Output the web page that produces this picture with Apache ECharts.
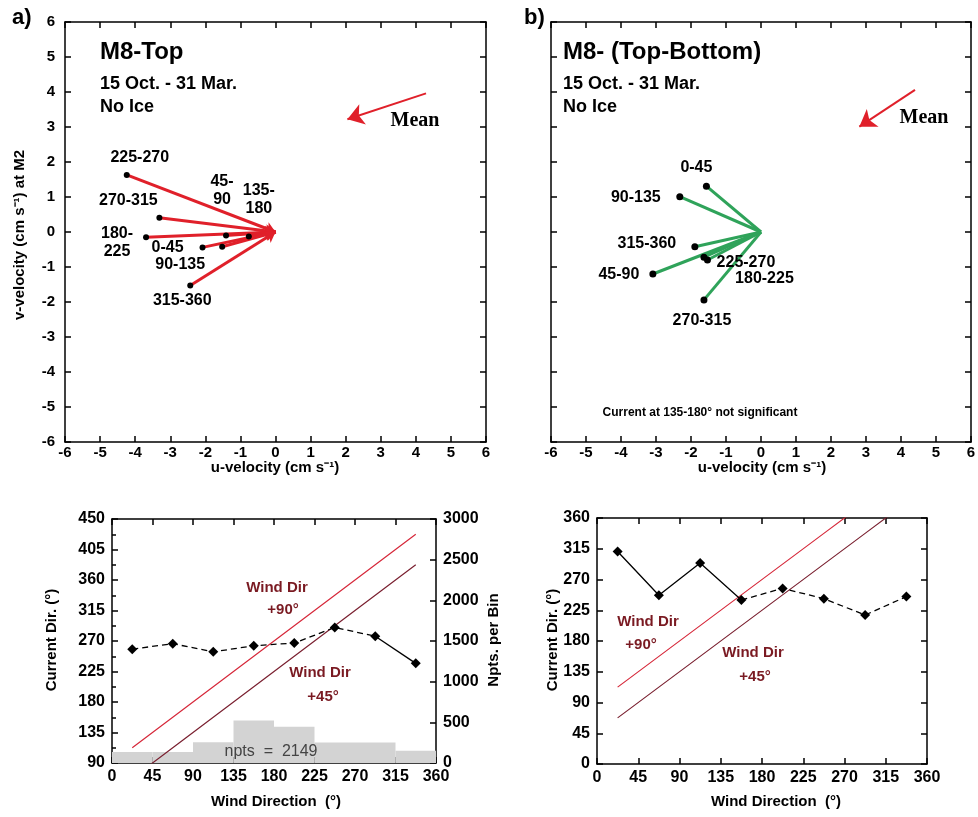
<!DOCTYPE html>
<html>
<head>
<meta charset="utf-8">
<script src="https://cdn.jsdelivr.net/npm/echarts@6.0.0/dist/echarts.min.js"></script>
<style>
html,body{margin:0;padding:0;background:#fff}
#chart{width:978px;height:817px}
</style>
</head>
<body>
<div id="chart"></div>
<script>
// ---- Mean current vectors per wind-direction bin (cm s-1) ----
const topBins   = ['225-270','270-315','180-225','45-90','135-180','0-45','90-135','315-360'];
const topU      = [-4.24, -3.31, -3.69, -1.41, -0.76, -2.08, -1.52, -2.43];
const topV      = [ 1.63,  0.41, -0.15, -0.10, -0.13, -0.44, -0.42, -1.53];

const shearBins = ['0-45','90-135','315-360','225-270','180-225','45-90','270-315'];
const shearU    = [-1.56, -2.32, -1.89, -1.63, -1.53, -3.09, -1.63];
const shearV    = [ 1.31,  1.01, -0.42, -0.72, -0.80, -1.20, -1.94];

// overall mean arrows: [tail, head]
const meanTop   = [[4.29, 3.96], [2.05, 3.22]];
const meanShear = [[4.40, 4.06], [2.81, 3.01]];

// ---- Current direction vs. wind direction ----
const windBins     = [22.5, 67.5, 112.5, 157.5, 202.5, 247.5, 292.5, 337.5];
const topCurDir    = [258, 266, 254, 263, 267, 290, 277, 237];
const shearCurDir  = [311, 247, 294, 240, 257, 242, 218, 245];
const binEdges     = [0, 45, 90, 135, 180, 225, 270, 315, 360];
const binCounts    = [134, 134, 256, 524, 446, 252, 252, 151];
const totalPts     = 2149;

// label placement around each vector tip (px); some top labels wrap onto two lines
const topLabelShift = {
  '225-270':[13,-17], '270-315':[-31,-17], '180-225':[-29,5], '45-90':[-4,-45],
  '135-180':[10,-37], '0-45':[-35,0], '90-135':[-42,18], '315-360':[-8,15]
};
const topLabelWrap = ['180-225', '45-90', '135-180'];
const shearLabelShift = {
  '0-45':[-10,-19], '90-135':[-44,1], '315-360':[-48,-3], '225-270':[42,5],
  '180-225':[57,19], '45-90':[-34,1], '270-315':[-2,21]
};

const FONT = '"Liberation Sans", Arial, sans-serif';
const RED = '#e0202a', GREEN = '#2fa35a', WIND90 = '#d6283a', WIND45 = '#7a2030', ANNOT = '#7a1a22';

const axLine = {show:true, onZero:false, lineStyle:{color:'#000', width:1.5}};
const axTick = {show:true, inside:true, length:6, lineStyle:{color:'#000', width:1.5}};
const axLbl  = (size, margin) => ({show:true, color:'#000', fontFamily:FONT, fontWeight:'bold',
                                   fontSize:size, margin:margin, formatter:v => String(v)});
const noLbl  = {show:false};

function valAxis(grid, pos, min, max, interval, label, extra) {
  return Object.assign({
    type:'value', gridIndex:grid, position:pos, min:min, max:max, interval:interval,
    axisLine:axLine, axisTick:axTick, axisLabel:label || noLbl, splitLine:{show:false}
  }, extra || {});
}

const xAxes = [
  valAxis(0,'bottom',-6,6,1,axLbl(15,3)),
  valAxis(0,'top',-6,6,1,null),
  valAxis(1,'bottom',-6,6,1,axLbl(15,3)),
  valAxis(1,'top',-6,6,1,null),
  valAxis(2,'bottom',0,360,45,axLbl(16,6)),
  valAxis(2,'top',0,360,45,null),
  valAxis(3,'bottom',0,360,45,axLbl(16,6)),
  valAxis(3,'top',0,360,45,null)
];
const yAxes = [
  valAxis(0,'left',-6,6,1,axLbl(15,10)),
  valAxis(0,'right',-6,6,1,null),
  valAxis(1,'left',-6,6,1,null),
  valAxis(1,'right',-6,6,1,null),
  valAxis(2,'left',90,450,45,axLbl(16,7),{minorTick:{show:true,splitNumber:2,length:4,lineStyle:{color:'#000',width:1.5}}}),
  valAxis(2,'right',0,3000,500,axLbl(16,7)),
  valAxis(3,'left',0,360,45,axLbl(16,7)),
  valAxis(3,'right',0,360,45,null)
];

function tipScatter(xi, bins, us, vs, shifts, wrap, size) {
  return {
    type:'scatter', xAxisIndex:xi, yAxisIndex:xi, z:5,
    symbol:'circle', symbolSize:size, itemStyle:{color:'#000', opacity:1},
    label:{show:true, position:'inside',
           formatter:p => wrap.indexOf(p.name) >= 0 ? p.name.replace('-', '-\n') : p.name,
           color:'#000', fontFamily:FONT, fontWeight:'bold', fontSize:16, lineHeight:18},
    data: bins.map((b,i) => ({name:b, value:[us[i], vs[i]], label:{offset:shifts[b]}}))
  };
}

function vectorLines(xi, us, vs, color, arrow) {
  return {
    type:'lines', coordinateSystem:'cartesian2d', xAxisIndex:xi, yAxisIndex:xi, z:3,
    symbol: arrow ? ['none','arrow'] : ['none','none'], symbolSize: arrow ? 10 : 0,
    lineStyle:{color:color, width:3, opacity:1},
    data: us.map((u,i) => ({coords:[[u, vs[i]], [0, 0]]}))
  };
}

function meanArrow(xi, seg) {
  return {
    type:'lines', coordinateSystem:'cartesian2d', xAxisIndex:xi, yAxisIndex:xi, z:3,
    symbol:['none','arrow'], symbolSize:[0,16],
    lineStyle:{color:RED, width:2, opacity:1},
    data:[{coords:seg}]
  };
}

function windLine(xi, yi, offset, color) {
  return {
    type:'line', xAxisIndex:xi, yAxisIndex:yi, z:3, showSymbol:false, silent:true,
    lineStyle:{color:color, width:1.2}, clip:true,
    data: windBins.map(w => [w, w + offset])
  };
}

function dirLine(xi, yi, vals, from, to, dashed) {
  return {
    type:'line', xAxisIndex:xi, yAxisIndex:yi, z:4, showSymbol:false,
    lineStyle:{color:'#000', width:1.3, type: dashed ? [6,4] : 'solid'},
    data: windBins.slice(from, to + 1).map((w,i) => [w, vals[from + i]])
  };
}

function dirMarks(xi, yi, vals) {
  return {
    type:'scatter', xAxisIndex:xi, yAxisIndex:yi, z:5, symbol:'diamond', symbolSize:10,
    itemStyle:{color:'#000', opacity:1}, data: windBins.map((w,i) => [w, vals[i]])
  };
}

const histogram = {
  type:'custom', xAxisIndex:4, yAxisIndex:5, z:1,
  data: binCounts.map((n,i) => [binEdges[i], binEdges[i+1], n]),
  encode:{x:[0,1], y:2},
  renderItem(params, api) {
    const a = api.coord([api.value(0), api.value(2)]);
    const b = api.coord([api.value(1), 0]);
    return {type:'rect', shape:{x:a[0], y:a[1], width:b[0]-a[0], height:b[1]-a[1]}, style:{fill:'#d3d3d3'}};
  }
};

function txt(text, x, y, size, o) {
  o = o || {};
  return {
    type:'text', x:x, y:y, rotation:o.rot || 0, z:100,
    style:{
      text:text, fill:o.color || '#000',
      font:(o.weight || 'bold') + ' ' + size + 'px ' + (o.family || FONT),
      align:o.align || 'left', textAlign:o.align || 'left',
      verticalAlign:'middle', textVerticalAlign:'middle', lineHeight:o.lh || size + 4
    }
  };
}
const SERIF = '"Liberation Serif", "Times New Roman", serif';
const UP = Math.PI / 2;

const graphics = [
  txt('a)', 12, 18, 22),
  txt('b)', 524, 18, 22),
  txt('M8-Top', 100, 52, 24),
  txt('15 Oct. - 31 Mar.', 100, 84, 18),
  txt('No Ice', 100, 107, 18),
  txt('M8- (Top-Bottom)', 563, 52, 24),
  txt('15 Oct. - 31 Mar.', 563, 84, 18),
  txt('No Ice', 563, 107, 18),
  txt('Mean', 415, 121, 20, {align:'center', family:SERIF}),
  txt('Mean', 924, 118, 20, {align:'center', family:SERIF}),
  txt('v-velocity (cm s\u207B\u00B9) at M2', 20, 235, 15, {align:'center', rot:UP}),
  txt('u-velocity (cm s\u207B\u00B9)', 275, 468, 15, {align:'center'}),
  txt('u-velocity (cm s\u207B\u00B9)', 762, 468, 15, {align:'center'}),
  txt('Current at 135-180\u00B0 not significant', 700, 413, 12, {align:'center'}),
  txt('Current Dir. (\u00B0)', 52, 640, 15, {align:'center', rot:UP}),
  txt('Npts. per Bin', 494, 640, 15, {align:'center', rot:UP}),
  txt('Current Dir. (\u00B0)', 553, 640, 15, {align:'center', rot:UP}),
  txt('Wind Direction  (\u00B0)', 276, 802, 15, {align:'center'}),
  txt('Wind Direction  (\u00B0)', 776, 802, 15, {align:'center'}),
  txt('Wind Dir', 277, 588, 15, {align:'center', color:ANNOT}),
  txt('+90\u00B0', 283, 610, 15, {align:'center', color:ANNOT}),
  txt('Wind Dir', 320, 673, 15, {align:'center', color:ANNOT}),
  txt('+45\u00B0', 323, 697, 15, {align:'center', color:ANNOT}),
  txt('Wind Dir', 648, 622, 15, {align:'center', color:ANNOT}),
  txt('+90\u00B0', 641, 645, 15, {align:'center', color:ANNOT}),
  txt('Wind Dir', 753, 653, 15, {align:'center', color:ANNOT}),
  txt('+45\u00B0', 755, 677, 15, {align:'center', color:ANNOT}),
  txt('npts  =  ' + totalPts, 271, 752, 16, {align:'center', weight:'normal', color:'#444'})
];

const chart = echarts.init(document.getElementById('chart'), null, {renderer:'canvas'});
chart.setOption({
  animation:false,
  backgroundColor:'#fff',
  grid:[
    {left:65,  top:22,  width:421, height:420, outerBoundsMode:'none', containLabel:false},
    {left:551, top:22,  width:420, height:420, outerBoundsMode:'none', containLabel:false},
    {left:112, top:519, width:324, height:244, outerBoundsMode:'none', containLabel:false},
    {left:597, top:518, width:330, height:246, outerBoundsMode:'none', containLabel:false}
  ],
  xAxis:xAxes,
  yAxis:yAxes,
  series:[
    vectorLines(0, topU, topV, RED, true),
    tipScatter(0, topBins, topU, topV, topLabelShift, topLabelWrap, 6),
    meanArrow(0, meanTop),
    vectorLines(2, shearU, shearV, GREEN, false),
    tipScatter(2, shearBins, shearU, shearV, shearLabelShift, [], 7),
    meanArrow(2, meanShear),
    histogram,
    windLine(4, 4, 90, WIND90),
    windLine(4, 4, 45, WIND45),
    dirLine(4, 4, topCurDir, 0, 6, true),
    dirLine(4, 4, topCurDir, 6, 7, false),
    dirMarks(4, 4, topCurDir),
    windLine(6, 6, 90, WIND90),
    windLine(6, 6, 45, WIND45),
    dirLine(6, 6, shearCurDir, 0, 3, false),
    dirLine(6, 6, shearCurDir, 3, 7, true),
    dirMarks(6, 6, shearCurDir)
  ],
  graphic:graphics
});
</script>
</body>
</html>
